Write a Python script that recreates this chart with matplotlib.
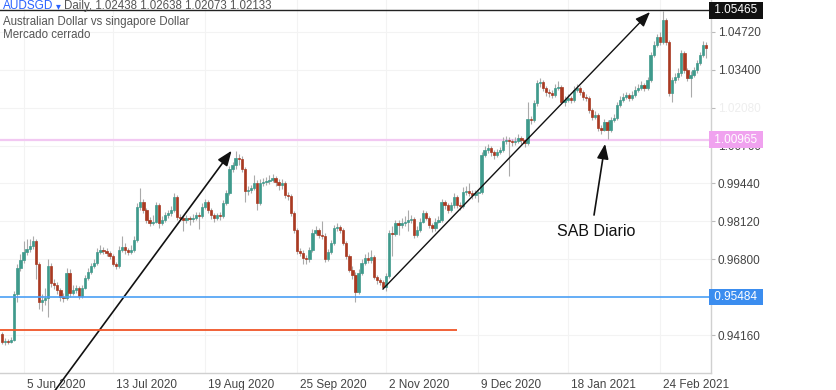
import numpy as np
import matplotlib.pyplot as plt
import matplotlib.transforms as mtransforms

# AUDSGD daily candles (bar index = trading day)
first_open = 0.9420
closes = [
    0.9392, 0.9395, 0.9392, 0.9399, 0.9559, 0.9650, 0.9677, 0.9705, 0.9715, 0.9726,
    0.9744, 0.9664, 0.9531, 0.9538, 0.9545, 0.9657, 0.9597, 0.9590, 0.9573, 0.9549,
    0.9545, 0.9632, 0.9562, 0.9573, 0.9580, 0.9552, 0.9580, 0.9615, 0.9636, 0.9657,
    0.9667, 0.9705, 0.9712, 0.9708, 0.9702, 0.9691, 0.9664, 0.9657, 0.9712, 0.9723,
    0.9712, 0.9705, 0.9712, 0.9747, 0.9862, 0.9879, 0.9852, 0.9817, 0.9806, 0.9810,
    0.9869, 0.9806, 0.9817, 0.9834, 0.9840, 0.9852, 0.9897, 0.9827, 0.9824, 0.9817,
    0.9822, 0.9820, 0.9824, 0.9834, 0.9830, 0.9862, 0.9879, 0.9852, 0.9834, 0.9824,
    0.9834, 0.9831, 0.9876, 0.9911, 0.9994, 1.0008, 1.0033, 1.0030, 0.9994, 0.9918,
    0.9921, 0.9928, 0.9946, 0.9876, 0.9946, 0.9949, 0.9953, 0.9956, 0.9963, 0.9949,
    0.9939, 0.9946, 0.9904, 0.9900, 0.9841, 0.9782, 0.9709, 0.9702, 0.9684, 0.9680,
    0.9712, 0.9771, 0.9782, 0.9764, 0.9761, 0.9681, 0.9705, 0.9737, 0.9789, 0.9792,
    0.9782, 0.9737, 0.9691, 0.9643, 0.9625, 0.9566, 0.9632, 0.9667, 0.9684, 0.9677,
    0.9688, 0.9618, 0.9608, 0.9601, 0.9583, 0.9622, 0.9771, 0.9768, 0.9806, 0.9799,
    0.9806, 0.9810, 0.9817, 0.9820, 0.9764, 0.9782, 0.9810, 0.9841, 0.9824, 0.9799,
    0.9789, 0.9810, 0.9817, 0.9879, 0.9869, 0.9852, 0.9869, 0.9897, 0.9869, 0.9866,
    0.9914, 0.9917, 0.9911, 0.9904, 0.9911, 0.9914, 1.0043, 1.0061, 1.0068, 1.0054,
    1.0043, 1.0054, 1.0061, 1.0092, 1.0095, 1.0092, 1.0088, 1.0092, 1.0102, 1.0095,
    1.0085, 1.0169, 1.0165, 1.0224, 1.0294, 1.0297, 1.0276, 1.0263, 1.0259, 1.0252,
    1.0276, 1.0280, 1.0228, 1.0235, 1.0242, 1.0235, 1.0270, 1.0276, 1.0263, 1.0245,
    1.0242, 1.0200, 1.0176, 1.0182, 1.0137, 1.0130, 1.0158, 1.0130, 1.0165, 1.0172,
    1.0217, 1.0235, 1.0245, 1.0252, 1.0242, 1.0252, 1.0270, 1.0276, 1.0287, 1.0276,
    1.0304, 1.0391, 1.0426, 1.0454, 1.0437, 1.0513, 1.0437, 1.0259, 1.0304, 1.0315,
    1.0329, 1.0398, 1.0339, 1.0311, 1.0322, 1.0339, 1.0364, 1.0391, 1.0426, 1.0416,
]
highs = [
    0.9428, 0.9404, 0.9402, 0.9408, 0.9570, 0.9662, 0.9700, 0.9745, 0.9750, 0.9752,
    0.9761, 0.9750, 0.9670, 0.9560, 0.9580, 0.9680, 0.9668, 0.9612, 0.9600, 0.9580,
    0.9562, 0.9650, 0.9645, 0.9590, 0.9592, 0.9588, 0.9590, 0.9625, 0.9648, 0.9668,
    0.9680, 0.9720, 0.9728, 0.9722, 0.9718, 0.9710, 0.9698, 0.9672, 0.9725, 0.9760,
    0.9735, 0.9720, 0.9728, 0.9760, 0.9875, 0.9928, 0.9890, 0.9860, 0.9828, 0.9835,
    0.9880, 0.9875, 0.9830, 0.9845, 0.9852, 0.9865, 0.9910, 0.9905, 0.9838, 0.9832,
    0.9835, 0.9832, 0.9838, 0.9845, 0.9845, 0.9875, 0.9890, 0.9885, 0.9860, 0.9840,
    0.9842, 0.9845, 0.9885, 0.9920, 1.0005, 1.0020, 1.0057, 1.0045, 1.0038, 1.0000,
    0.9935, 0.9940, 0.9975, 0.9955, 0.9960, 0.9962, 0.9965, 0.9975, 0.9978, 0.9970,
    0.9958, 0.9958, 0.9952, 0.9915, 0.9908, 0.9848, 0.9790, 0.9720, 0.9712, 0.9695,
    0.9722, 0.9785, 0.9795, 0.9790, 0.9812, 0.9770, 0.9715, 0.9748, 0.9800, 0.9805,
    0.9800, 0.9790, 0.9745, 0.9700, 0.9655, 0.9635, 0.9645, 0.9680, 0.9700, 0.9705,
    0.9712, 0.9695, 0.9625, 0.9615, 0.9608, 0.9632, 0.9782, 0.9795, 0.9818, 0.9815,
    0.9825, 0.9830, 0.9850, 0.9835, 0.9828, 0.9795, 0.9822, 0.9852, 0.9848, 0.9830,
    0.9808, 0.9822, 0.9830, 0.9890, 0.9888, 0.9875, 0.9880, 0.9910, 0.9905, 0.9880,
    0.9930, 0.9935, 0.9945, 0.9920, 0.9922, 0.9925, 1.0055, 1.0075, 1.0080, 1.0075,
    1.0060, 1.0065, 1.0072, 1.0105, 1.0108, 1.0105, 1.0100, 1.0105, 1.0115, 1.0110,
    1.0100, 1.0228, 1.0180, 1.0235, 1.0305, 1.0310, 1.0305, 1.0285, 1.0272, 1.0268,
    1.0290, 1.0300, 1.0288, 1.0250, 1.0255, 1.0250, 1.0282, 1.0290, 1.0282, 1.0270,
    1.0255, 1.0250, 1.0208, 1.0195, 1.0190, 1.0148, 1.0168, 1.0165, 1.0175, 1.0185,
    1.0228, 1.0248, 1.0258, 1.0262, 1.0260, 1.0265, 1.0282, 1.0290, 1.0300, 1.0295,
    1.0315, 1.0402, 1.0440, 1.0465, 1.0470, 1.0546, 1.0520, 1.0445, 1.0315, 1.0328,
    1.0345, 1.0410, 1.0405, 1.0345, 1.0335, 1.0350, 1.0375, 1.0402, 1.0440, 1.0438,
]
lows = [
    0.9385, 0.9380, 0.9384, 0.9388, 0.9395, 0.9530, 0.9640, 0.9668, 0.9695, 0.9705,
    0.9715, 0.9612, 0.9505, 0.9500, 0.9520, 0.9478, 0.9585, 0.9578, 0.9560, 0.9535,
    0.9530, 0.9538, 0.9550, 0.9555, 0.9562, 0.9540, 0.9545, 0.9575, 0.9608, 0.9628,
    0.9648, 0.9660, 0.9698, 0.9698, 0.9690, 0.9680, 0.9655, 0.9645, 0.9650, 0.9705,
    0.9700, 0.9695, 0.9698, 0.9705, 0.9740, 0.9850, 0.9840, 0.9805, 0.9795, 0.9798,
    0.9805, 0.9790, 0.9798, 0.9810, 0.9825, 0.9832, 0.9845, 0.9815, 0.9815, 0.9778,
    0.9805, 0.9800, 0.9810, 0.9815, 0.9785, 0.9822, 0.9855, 0.9840, 0.9820, 0.9810,
    0.9815, 0.9818, 0.9825, 0.9870, 0.9905, 0.9985, 0.9995, 1.0010, 0.9985, 0.9880,
    0.9905, 0.9912, 0.9920, 0.9850, 0.9870, 0.9935, 0.9940, 0.9942, 0.9948, 0.9935,
    0.9920, 0.9925, 0.9892, 0.9885, 0.9830, 0.9770, 0.9700, 0.9690, 0.9665, 0.9665,
    0.9672, 0.9705, 0.9765, 0.9755, 0.9750, 0.9672, 0.9675, 0.9698, 0.9730, 0.9778,
    0.9770, 0.9728, 0.9680, 0.9635, 0.9610, 0.9531, 0.9560, 0.9625, 0.9660, 0.9668,
    0.9668, 0.9610, 0.9595, 0.9590, 0.9575, 0.9570, 0.9615, 0.9690, 0.9760, 0.9765,
    0.9790, 0.9795, 0.9780, 0.9805, 0.9755, 0.9758, 0.9775, 0.9805, 0.9815, 0.9790,
    0.9775, 0.9780, 0.9805, 0.9810, 0.9855, 0.9840, 0.9845, 0.9860, 0.9860, 0.9850,
    0.9860, 0.9905, 0.9900, 0.9890, 0.9895, 0.9878, 0.9908, 1.0035, 1.0050, 1.0040,
    1.0030, 1.0035, 1.0048, 1.0055, 1.0080, 0.9970, 1.0075, 1.0078, 1.0085, 1.0082,
    1.0070, 1.0078, 1.0152, 1.0158, 1.0215, 1.0280, 1.0265, 1.0250, 1.0245, 1.0240,
    1.0245, 1.0268, 1.0220, 1.0215, 1.0228, 1.0225, 1.0228, 1.0262, 1.0252, 1.0235,
    1.0230, 1.0190, 1.0165, 1.0168, 1.0125, 1.0118, 1.0125, 1.0100, 1.0122, 1.0158,
    1.0165, 1.0210, 1.0228, 1.0238, 1.0232, 1.0235, 1.0245, 1.0262, 1.0270, 1.0265,
    1.0270, 1.0298, 1.0385, 1.0418, 1.0425, 1.0430, 1.0428, 1.0250, 1.0228, 1.0295,
    1.0305, 1.0320, 1.0330, 1.0300, 1.0245, 1.0315, 1.0330, 1.0355, 1.0385, 1.0380,
]

date_ticks = [7, 36, 66, 96, 125, 155, 184, 214]
date_labels = ["5 Jun 2020", "13 Jul 2020", "19 Aug 2020", "25 Sep 2020",
               "2 Nov 2020", "9 Dec 2020", "18 Jan 2021", "24 Feb 2021"]
# 0.95480 sits fully under the blue price box, so it is not labelled
price_ticks = [0.94160, 0.96800, 0.98120, 0.99440,
               1.00760, 1.02080, 1.03400, 1.04720]

level_top = 1.05465
level_pink = 1.00965
level_blue = 0.95484
level_red = 0.9434
red_end = 148

plt.rcParams['font.family'] = ['Liberation Sans', 'DejaVu Sans']

W, H = 836, 390
fig = plt.figure(figsize=(W / 100, H / 100), dpi=100)
ax = fig.add_axes([0, 17 / H, 711 / W, 373 / H])

n = len(closes)
idx = np.arange(n)
opens = np.array([first_open] + closes[:-1])
closes_a = np.array(closes)
up = closes_a >= opens
col = np.where(up, '#3f9a8c', '#a93a22')

# candles
ax.vlines(idx, lows, highs, color='#aaaaaa', lw=0.8, zorder=2)
ax.bar(idx, np.abs(closes_a - opens), bottom=np.minimum(opens, closes_a),
       width=0.75, color=col, edgecolor=col, linewidth=0.5, zorder=3)

ax.set_xlim(-0.65, 230.65)
ax.set_ylim(0.92838, 1.0583)

# horizontal levels
ax.axhline(level_top, color='#222222', lw=1.0, zorder=4)
ax.axhline(level_pink, color='#f2c8f2', lw=1.6, zorder=1)
ax.axhline(level_blue, color='#4a9ff5', lw=1.2, zorder=4)
ax.hlines(level_red, -1, red_end, color='#f05528', lw=1.3, zorder=4)

# arrows
arrow_kw = dict(arrowstyle='-|>,head_length=0.9,head_width=0.35', color='#111111',
                shrinkA=0, shrinkB=0, clip_on=False)
ax.annotate('', xy=(74.7, 1.0058), xytext=(16.9, 0.9218),
            arrowprops=dict(lw=1.2, **arrow_kw), annotation_clip=False)
ax.annotate('', xy=(210.8, 1.0541), xytext=(123.9, 0.9576),
            arrowprops=dict(lw=1.0, **arrow_kw), annotation_clip=False)
ax.annotate('', xy=(196.2, 1.0082), xytext=(192.6, 0.9834),
            arrowprops=dict(lw=1.2, **arrow_kw), annotation_clip=False)
ax.text(193.4, 0.97767, "SAB Diario", fontsize=11.5, color='#111111',
        ha='center', va='center')

# axes styling
for s in ['left', 'top']:
    ax.spines[s].set_visible(False)
for s in ['right', 'bottom']:
    ax.spines[s].set_color('#d0d0d0')
    ax.spines[s].set_linewidth(1.0)

ax.yaxis.tick_right()
ax.set_yticks(price_ticks)
ax.set_yticklabels([f"{p:.5f}" for p in price_ticks])
ax.tick_params(axis='y', length=3, color='#bbbbbb', labelsize=8.5,
               labelcolor='#444444', pad=2)
ax.get_yticklabels()[5].set_color('#eeeeee')

ax.set_xticks(date_ticks)
ax.set_xticklabels(date_labels, ha='left')
ax.tick_params(axis='x', length=0, labelsize=8.5, labelcolor='#444444', pad=4)
shift = mtransforms.ScaledTranslation(3 / 100, 0, fig.dpi_scale_trans)
for lab in ax.get_xticklabels():
    lab.set_transform(lab.get_transform() + shift)

ax.grid(True, color='#f3f3f3', lw=0.8, zorder=0)
ax.set_axisbelow(True)

# price boxes on the right scale
trans = mtransforms.blended_transform_factory(ax.transAxes, ax.transData)
for lvl, fc in [(level_top, '#111111'), (level_pink, '#f0a2ef'), (level_blue, '#3b8def')]:
    ax.text(1.0, lvl, f" {lvl:.5f} ", transform=trans, ha='left', va='center',
            fontsize=8.5, color='white', zorder=10, clip_on=False,
            bbox=dict(boxstyle='square,pad=0.2', fc=fc, ec='none'))

# header
fig.text(3 / W, 1 - 9 / H, "AUDSGD", fontsize=8.5, color='#2962ff', va='baseline')
fig.text(56 / W, 1 - 9 / H, "\u25be", fontsize=7, color='#2962ff', va='baseline')
fig.text(64 / W, 1 - 9 / H, "Daily, 1.02438 1.02638 1.02073 1.02133", fontsize=8.3,
         color='#555555', va='baseline')
fig.text(3 / W, 1 - 25 / H, "Australian Dollar vs singapore Dollar", fontsize=8.3,
         color='#555555', va='baseline')
fig.text(3 / W, 1 - 38 / H, "Mercado cerrado", fontsize=8.3, color='#555555', va='baseline')

fig.savefig("out.png", dpi=100)
